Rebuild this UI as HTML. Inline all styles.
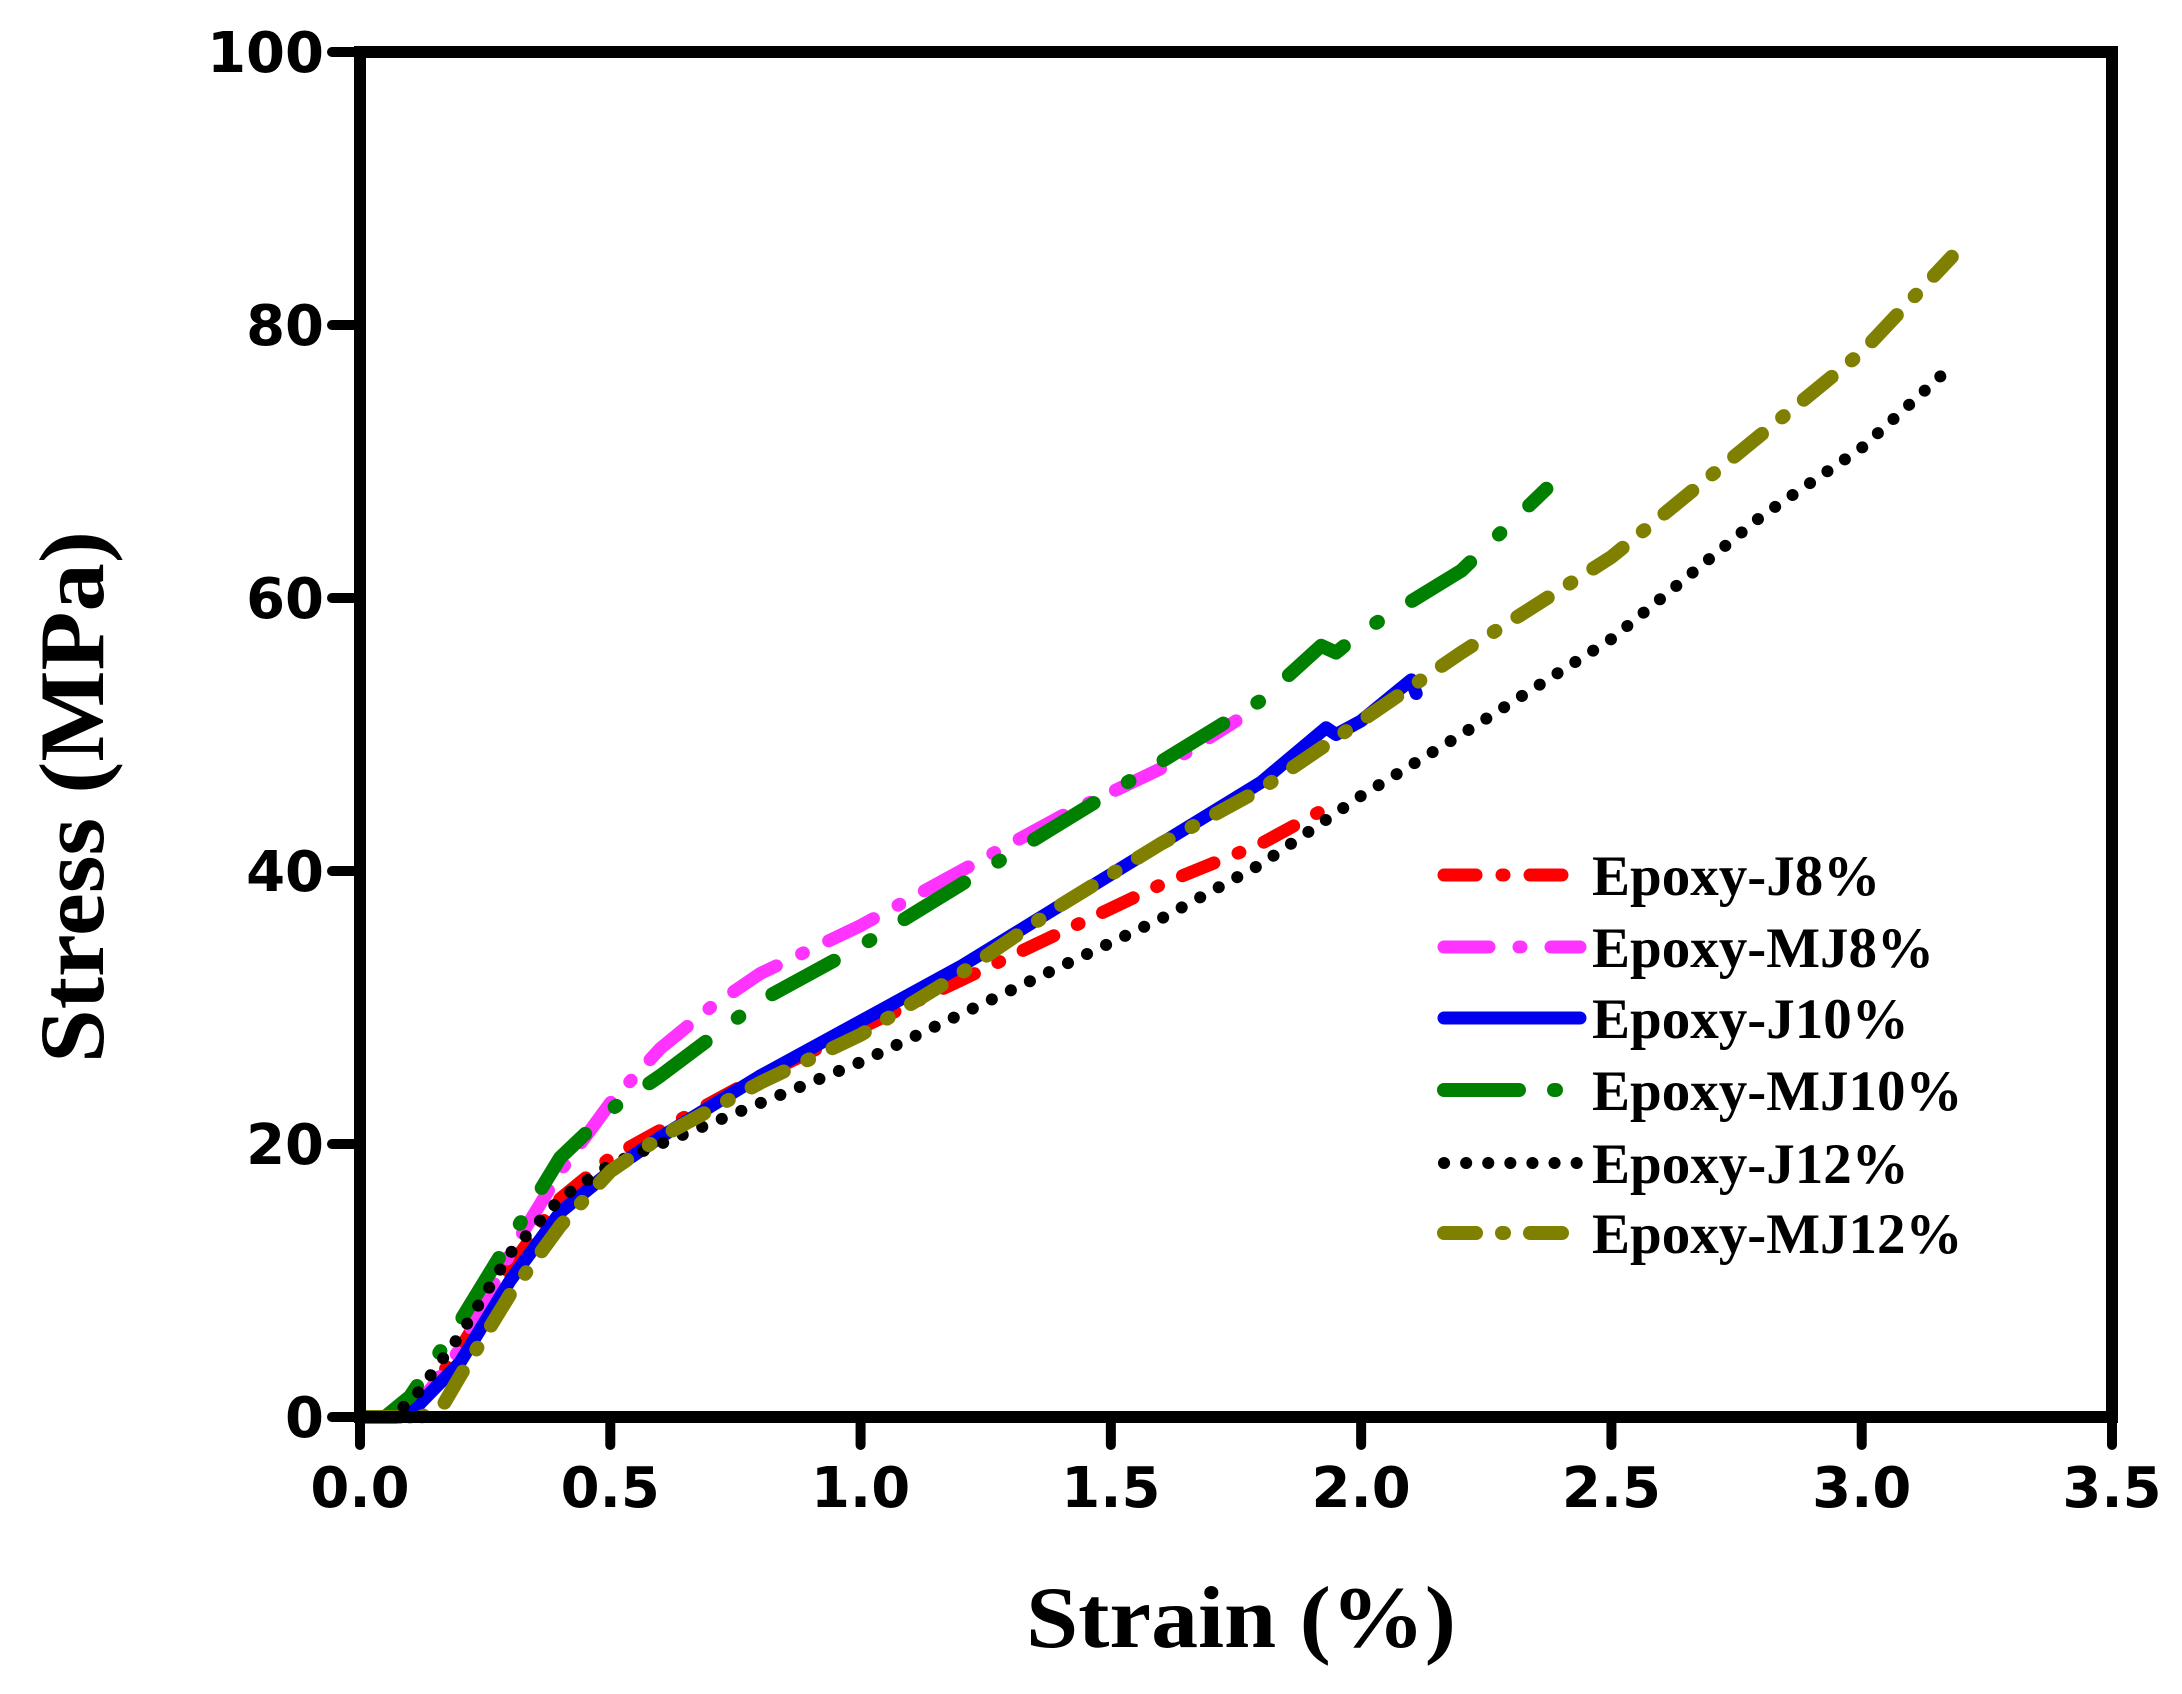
<!DOCTYPE html>
<html><head><meta charset="utf-8"><style>
html,body{margin:0;padding:0;background:#fff;}
svg{display:block;}
.tick{font-family:"DejaVu Sans","Liberation Sans",sans-serif;font-weight:bold;font-size:56px;fill:#000;}
.title{font-family:"Liberation Serif",serif;font-weight:bold;fill:#000;}
.leg{font-family:"Liberation Serif",serif;font-weight:bold;font-size:57px;fill:#000;}
</style></head><body>
<svg id="chart" width="2182" height="1694" viewBox="0 0 2182 1694">
<g id="series"></g>
<g id="axes"></g>
<g id="legend"></g>
<text class="title" x="1241" y="1647" text-anchor="middle" font-size="88" textLength="430" lengthAdjust="spacingAndGlyphs">Strain (%)</text>
<text class="title" transform="translate(103,797) rotate(-90)" text-anchor="middle" font-size="92" textLength="532" lengthAdjust="spacingAndGlyphs">Stress (MPa)</text>
</svg>
<script>
const xTicks = [0,0.5,1.0,1.5,2.0,2.5,3.0,3.5];
const xTickLabels = ["0.0","0.5","1.0","1.5","2.0","2.5","3.0","3.5"];
const yTicks = [0,20,40,60,80,100];
const yTickLabels = ["0","20","40","60","80","100"];
const seriesNames = ["Epoxy-J8%","Epoxy-MJ8%","Epoxy-J10%","Epoxy-MJ10%","Epoxy-J12%","Epoxy-MJ12%"];
const j8X = [0.1,0.2,0.3,0.4,0.5,0.6,0.8,1.0,1.2,1.4,1.6,1.8,1.95];
const j8Y = [0,5,11,16,19,21,25,28.5,32,35.5,39,42,45];
const mj8X = [0.1,0.2,0.3,0.4,0.5,0.6,0.7,0.8,1.0,1.2,1.4,1.6,1.75];
const mj8Y = [0,5,12,18,23,27,30,32.5,36,40,44,47.5,51];
const j10X = [0.08,0.12,0.2,0.3,0.4,0.5,0.6,0.8,1.0,1.2,1.4,1.6,1.8,1.93,1.95,2.0,2.1,2.11];
const j10Y = [0,1,4,10,15,18,20.5,25,29,33,37.5,42,46.5,50.5,50,51,54,53];
const mj10X = [0,0.05,0.1,0.2,0.3,0.4,0.5,0.6,0.8,1.0,1.2,1.4,1.6,1.8,1.92,1.95,2.0,2.2,2.37];
const mj10Y = [0,0,1.5,7,13,19,22.5,25,30.5,34.5,39,43.5,48,52.5,56.5,56,57.5,62,68];
const j12X = [0.05,0.1,0.2,0.3,0.4,0.5,0.6,0.8,1.0,1.2,1.4,1.6,1.8,2.0,2.2,2.5,2.8,3.0,3.18];
const j12Y = [0,1,6,12,16,18.5,20,23,26,29.5,33,36.5,40.5,45.5,50,57,66,71,77];
const mj12X = [0,0.12,0.16,0.2,0.3,0.4,0.5,0.6,0.8,1.0,1.2,1.4,1.6,1.8,2.0,2.2,2.5,2.8,3.0,3.18];
const mj12Y = [0,0,0.5,3,9,14,18,20.5,24.5,28,32.5,37.5,42,46,51,56,63,72,78,85];

const NS="http://www.w3.org/2000/svg";
const L=360,R=2112,T=52,B=1417;
const xs=v=>L+(v/3.5)*(R-L);
const ys=v=>B-(v/100)*(B-T);
function mk(tag,attrs,parent){const e=document.createElementNS(NS,tag);for(const k in attrs)e.setAttribute(k,attrs[k]);parent.appendChild(e);return e;}
const styles=[
 {c:"#ff0000",w:13,d:"34 26 2 26",n:"series-j8"},
 {c:"#ff33ff",w:13,d:"50 28 2 28",n:"series-mj8"},
 {c:"#0000ee",w:13,d:"",n:"series-j10"},
 {c:"#008000",w:14,d:"70 40 2 40",n:"series-mj10"},
 {c:"#000000",w:12,d:"0.1 21",n:"series-j12"},
 {c:"#808000",w:14,d:"36 26 2 26",n:"series-mj12"}];
const legDash=["32 26 2 26","45 30 2 30","","75 35 2 35","0.1 22","32 26 2 26"];
const data=[[j8X,j8Y],[mj8X,mj8Y],[j10X,j10Y],[mj10X,mj10Y],[j12X,j12Y],[mj12X,mj12Y]];
const sg=document.getElementById('series');
data.forEach((s,i)=>{
 const p=s[0].map((x,k)=>(k?'L':'M')+xs(x).toFixed(1)+','+ys(s[1][k]).toFixed(1)).join(' ');
 const st=styles[i];
 const el=mk('path',{d:p,fill:'none',stroke:st.c,'stroke-width':st.w,'stroke-linecap':'round','stroke-linejoin':'round'},sg);
 if(st.d)el.setAttribute('stroke-dasharray',st.d);
 
 
});
const ag=document.getElementById('axes');
const frame=mk('rect',{x:L,y:T,width:R-L,height:B-T,fill:'none',stroke:'#000','stroke-width':12},ag);


xTicks.forEach((v,i)=>{
 const t=mk('line',{x1:xs(v),x2:xs(v),y1:B,y2:B+28,stroke:'#000','stroke-width':10,'stroke-linecap':'round'},ag);
 
 
 const tx=mk('text',{x:xs(v),y:1507,'text-anchor':'middle','class':'tick'},ag);
 tx.textContent=xTickLabels[i];
 
 
});
yTicks.forEach((v,i)=>{
 const t=mk('line',{x1:L-28,x2:L,y1:ys(v),y2:ys(v),stroke:'#000','stroke-width':10,'stroke-linecap':'round'},ag);
 
 
 const tx=mk('text',{x:324,y:ys(v)+20,'text-anchor':'end','class':'tick'},ag);
 tx.textContent=yTickLabels[i];
 
 
});
const lg=document.getElementById('legend');
const rowsY=[875,947,1018,1090,1163,1233];
seriesNames.forEach((n,i)=>{
 const st=styles[i];
 const g=mk('g',{},lg);
 
 
 const ln=mk('line',{x1:1444,x2:1580,y1:rowsY[i],y2:rowsY[i],stroke:st.c,'stroke-width':st.w,'stroke-linecap':'round'},g);
 if(legDash[i])ln.setAttribute('stroke-dasharray',legDash[i]);
 
 
 const tx=mk('text',{x:1592,y:rowsY[i]+20,'class':'leg'},g);
 tx.textContent=n;
 
 
});
</script>
</body></html>
